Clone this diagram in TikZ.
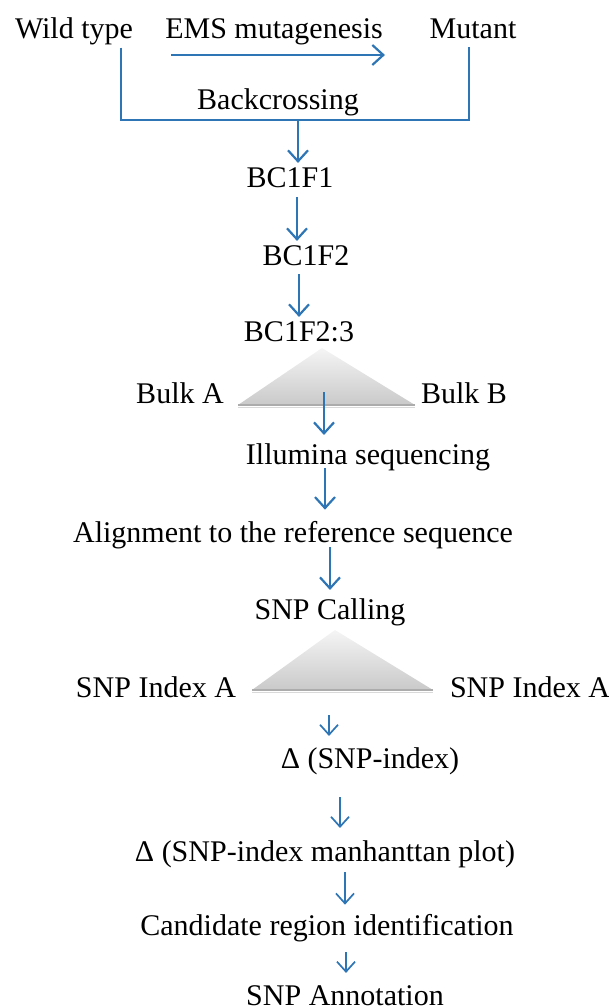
\documentclass[tikz,border=0pt]{standalone}
\usepackage{fontspec}
\setmainfont{Liberation Serif}
\usetikzlibrary{arrows.meta}
\definecolor{flowblue}{RGB}{46,117,182}
\tikzset{
  lbl/.style={inner sep=0pt, anchor=base, font=\fontsize{30}{34}\selectfont},
  flow/.style={flowblue, line width=2.2pt,
    -{Straight Barb[length=11pt,width=20pt,line width=2.2pt]}},
  thinflow/.style={flowblue, line width=1.7pt,
    -{Straight Barb[length=10pt,width=18pt,line width=1.7pt]}},
  bracketline/.style={flowblue, line width=1.3pt},
  pool/.style={top color=gray!8, bottom color=gray!42},
}
\begin{document}
\begin{tikzpicture}[x=1pt, y=-1pt]
  \useasboundingbox (0,0) rectangle (609,1008);
  % Parents and mutagenesis
  \node[lbl] (wild)   at (74,39)  {Wild type};
  \node[lbl] (ems)    at (274,39) {EMS mutagenesis};
  \node[lbl] (mutant) at (473,39) {Mutant};
  \draw[flow] ([xshift=6,yshift=-16]ems.base west) -- ([xshift=2,yshift=-16]ems.base east);
  % Backcross bracket
  \node[lbl] (back) at (278,110) {Backcrossing};
  \coordinate (jl) at (121,120);
  \coordinate (jr) at (469,120);
  \coordinate (jm) at (298,120);
  \draw[bracketline, shorten <=2pt, shorten >=8pt] (wild.south -| jl) -- (jl) -- (jr) -- (mutant.base -| jr);
  % Generations
  \node[lbl] (bcf1)  at (290,188) {BC1F1};
  \node[lbl] (bcf2)  at (306,265) {BC1F2};
  \node[lbl] (bcf23) at (299,341) {BC1F2:3};
  \coordinate (c2) at (297,0);
  \coordinate (c3) at (299,0);
  \draw[flow, shorten >=5pt] (jm) -- (jm |- bcf1.north);
  \draw[flow, shorten <=9pt, shorten >=4pt] (bcf1.base -| c2) -- (c2 |- bcf2.north);
  \draw[flow, shorten <=9pt, shorten >=4pt] (bcf2.base -| c3) -- (c3 |- bcf23.north);
  % Bulks
  \coordinate (t1top) at (322,348);
  \coordinate (t1l) at (238,405);
  \coordinate (t1r) at (415,405);
  \shade[pool] (t1top) -- (t1r) -- (t1l) -- cycle;
  \draw[gray!65, line width=1.6pt] (t1l) -- (t1r);
  \draw[gray!30, line width=1.2pt] ([yshift=-2.4pt]t1l) -- ([yshift=-2.4pt]t1r);
  \node[lbl] (bulka) at (180,403) {Bulk A};
  \node[lbl] (bulkb) at (464,403) {Bulk B};
  % Sequencing and calling
  \node[lbl] (illu)  at (368,464) {Illumina sequencing};
  \node[lbl] (align) at (293,542) {Alignment to the reference sequence};
  \node[lbl] (call)  at (330,619) {SNP Calling};
  \coordinate (t1mid) at (324,392);
  \coordinate (c5) at (325,0);
  \coordinate (c6) at (330,0);
  \draw[flow, shorten >=8pt] (t1mid) -- (t1mid |- illu.north);
  \draw[flow, shorten <=4pt, shorten >=11pt] (illu.base -| c5) -- (c5 |- align.north);
  \draw[flow, shorten <=5pt, shorten >=8pt] (align.base -| c6) -- (c6 |- call.north);
  % SNP index of both bulks
  \coordinate (t2top) at (335,630);
  \coordinate (t2l) at (252,690);
  \coordinate (t2r) at (433,690);
  \shade[pool] (t2top) -- (t2r) -- (t2l) -- cycle;
  \draw[gray!65, line width=1.6pt] (t2l) -- (t2r);
  \draw[gray!30, line width=1.2pt] ([yshift=-2.4pt]t2l) -- ([yshift=-2.4pt]t2r);
  \node[lbl] (idxa) at (156,697) {SNP Index A};
  \node[lbl] (idxb) at (530,697) {SNP Index A};
  % Downstream analysis
  \node[lbl] (delta) at (370,768)  {Δ (SNP-index)};
  \node[lbl] (manh)  at (325,861)  {Δ (SNP-index manhanttan plot)};
  \node[lbl] (cand)  at (327,935)  {Candidate region identification};
  \node[lbl] (annot) at (345,1005) {SNP Annotation};
  \coordinate (t2mid) at (329,715);
  \coordinate (c8) at (340,0);
  \coordinate (c9) at (345,0);
  \coordinate (c10) at (346,0);
  \draw[thinflow, shorten >=11pt] (t2mid) -- (t2mid |- delta.north);
  \draw[thinflow, shorten <=29pt, shorten >=12pt] (delta.base -| c8) -- (c8 |- manh.north);
  \draw[thinflow, shorten <=11pt, shorten >=9pt] (manh.base -| c9) -- (c9 |- cand.north);
  \draw[thinflow, shorten <=17pt, shorten >=12pt] (cand.base -| c10) -- (c10 |- annot.north);
\end{tikzpicture}
\end{document}
